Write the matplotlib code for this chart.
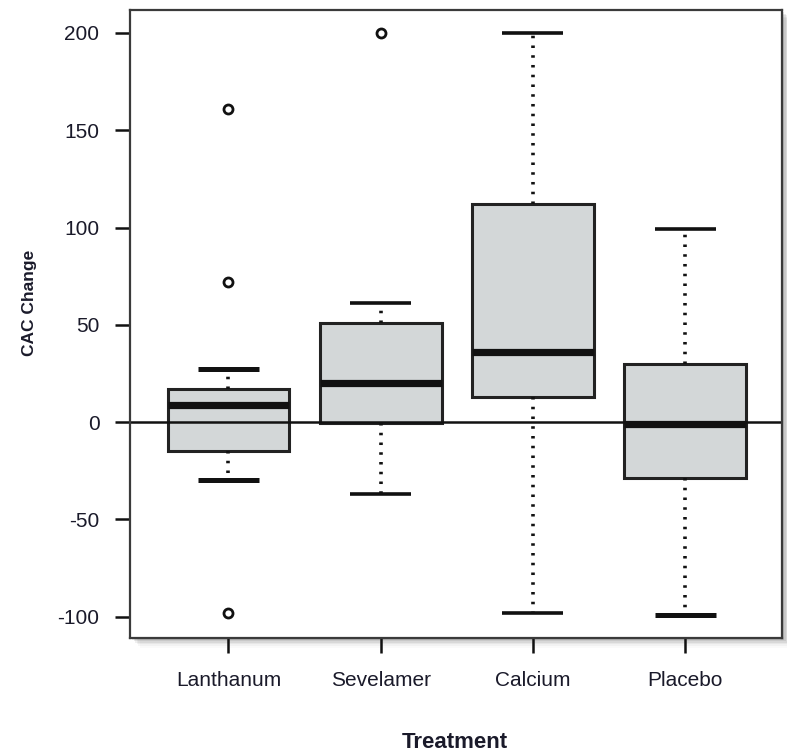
import matplotlib.pyplot as plt
import matplotlib.patches as patches

plt.rcParams['font.family'] = ['Liberation Sans', 'DejaVu Sans']
plt.rcParams['axes.unicode_minus'] = False

# five-number summaries per treatment group
treatments = ['Lanthanum', 'Sevelamer', 'Calcium', 'Placebo']
whisker_low = [-30, -37, -98, -99]
q1 = [-15, -0.5, 13, -29]
medians = [9, 20, 36, -1]
q3 = [17, 51, 112, 30]
whisker_high = [27, 61, 200, 99]
outliers = [[161, 72, -98], [200], [], []]

stats = []
for i, name in enumerate(treatments):
    stats.append(dict(label=name, whislo=whisker_low[i], q1=q1[i], med=medians[i],
                      q3=q3[i], whishi=whisker_high[i], fliers=outliers[i]))

fig = plt.figure(figsize=(7.87, 7.55), dpi=100, facecolor='white')
x0, y0, w, h = 0.1652, 0.1556, 0.8285, 0.8311

# soft drop shadow behind the plotting frame
for k, a in enumerate([0.10, 0.08, 0.06, 0.045, 0.03, 0.02]):
    offx = (2 + 1.6 * k) / 787
    offy = (2 + 1.6 * k) / 755
    fig.patches.append(patches.Rectangle((x0 + offx, y0 - offy), w, h,
                                         transform=fig.transFigure,
                                         facecolor='black', edgecolor='none',
                                         alpha=a, zorder=-5))

ax = fig.add_axes([x0, y0, w, h], zorder=2)
ax.set_facecolor('white')

bp = ax.bxp(stats, positions=[1, 2, 3, 4], widths=0.8, patch_artist=True,
            showfliers=True,
            boxprops=dict(facecolor='#d3d7d8', edgecolor='#222222', linewidth=2.2),
            medianprops=dict(color='#111111', linewidth=5.2, solid_capstyle='butt'),
            whiskerprops=dict(color='#111111', linewidth=2.6,
                              linestyle=(0, (0.7, 2.0))),
            capprops=dict(color='#111111', linewidth=2.6, solid_capstyle='butt'),
            capwidths=0.4,
            flierprops=dict(marker='o', markersize=6.5, markerfacecolor='none',
                            markeredgecolor='#111111', markeredgewidth=2.0))

# heavier caps on the Lanthanum whiskers and the Placebo lower whisker
for idx in (0, 1, 6):
    bp['caps'][idx].set_linewidth(3.6)

ax.axhline(0, color='#111111', linewidth=1.8, zorder=5)

ax.set_xlim(0.353, 4.637)
ax.set_ylim(-110.8, 211.8)
ax.set_yticks([-100, -50, 0, 50, 100, 150, 200])
ax.set_xticks([1, 2, 3, 4])
ax.set_xticklabels(treatments)

ax.tick_params(axis='both', direction='out', length=11, width=1.8,
               color='#111111', labelsize=15, labelcolor='#1a1a2a')
ax.tick_params(axis='x', pad=13)
ax.tick_params(axis='y', pad=11)

for s in ax.spines.values():
    s.set_color('#3a3a3a')
    s.set_linewidth(1.6)
    s.set_zorder(6)

fig.text(0.038, 1 - 303 / 755, 'CAC Change', rotation=90, ha='center', va='center',
         fontsize=12.5, fontweight='bold', color='#1a1a2a')
fig.text(0.5785, 1 - 743 / 755, 'Treatment', ha='center', va='center',
         fontsize=16, fontweight='bold', color='#1a1a2a')

fig.savefig('out.png', dpi=100, facecolor='white')
